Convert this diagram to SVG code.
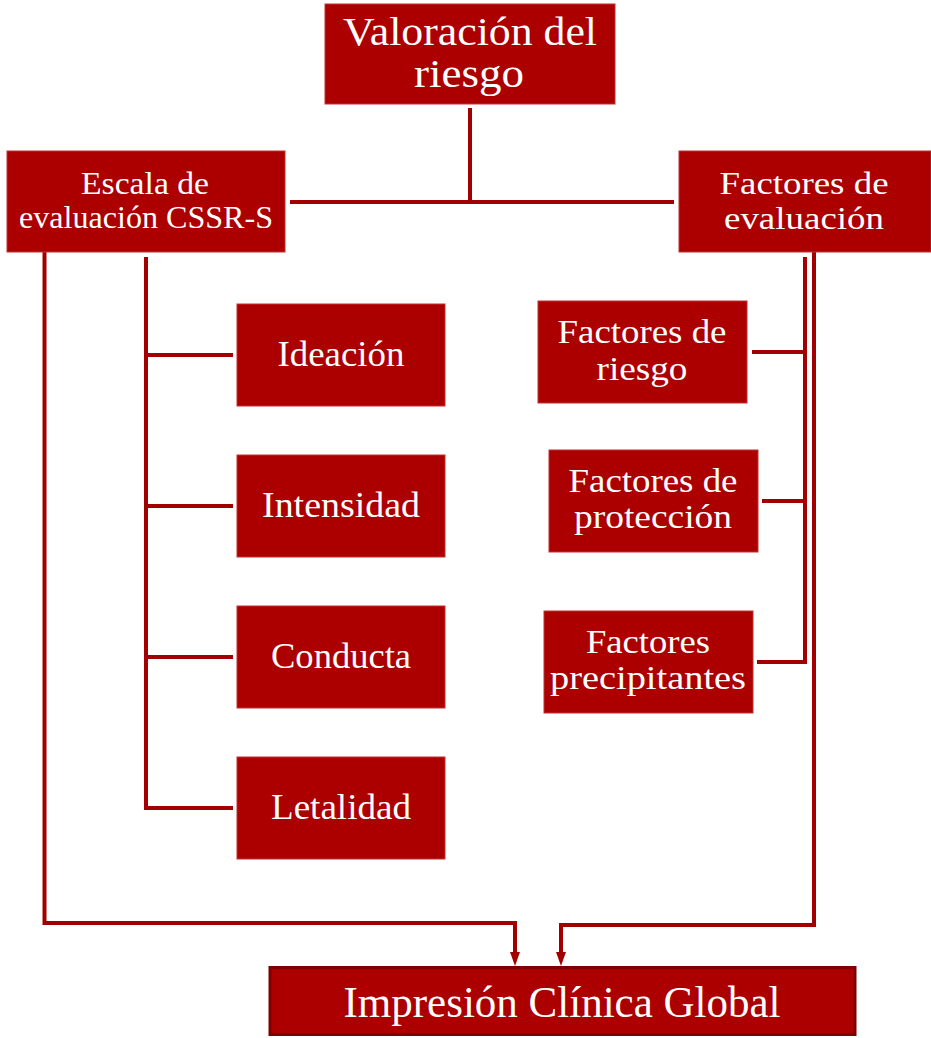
<svg xmlns="http://www.w3.org/2000/svg" width="931" height="1038" viewBox="0 0 931 1038">
<style>
.box{fill:#AC0000;stroke:#C03030;stroke-width:1}
.main{fill:#AC0000;stroke:#7E0000;stroke-width:3}
.t{font-family:"Liberation Serif","Times New Roman",serif;fill:#FFFFFF;text-anchor:middle}
.big{font-size:44px}
.top{font-size:40px}
.mid{font-size:32px}
.sub{font-size:36px}
.sub2{font-size:33px}
.ln{fill:none;stroke:#A20000;stroke-width:4}
.head{fill:#A20000}
</style>
<g id="connectors">
<line class="ln" x1="470" y1="108" x2="470" y2="202"/>
<line class="ln" x1="290" y1="202" x2="674" y2="202"/>
<polyline class="ln" points="44.5,252 44.5,923 515,923 515,953"/>
<path class="head" d="M510,952 L520,952 L515,966 Z"/>
<polyline class="ln" points="146,257 146,808"/>
<line class="ln" x1="146" y1="355" x2="233" y2="355"/>
<line class="ln" x1="146" y1="506" x2="233" y2="506"/>
<line class="ln" x1="146" y1="657" x2="233" y2="657"/>
<line class="ln" x1="144" y1="808" x2="233" y2="808"/>
<polyline class="ln" points="805,257 805,662"/>
<line class="ln" x1="752" y1="352" x2="807" y2="352"/>
<line class="ln" x1="762" y1="501" x2="807" y2="501"/>
<line class="ln" x1="757" y1="662" x2="807" y2="662"/>
<polyline class="ln" points="814,252 814,925 561,925 561,953"/>
<path class="head" d="M556,952 L566,952 L561,966 Z"/>
</g>
<g id="node-valoracion">
<rect class="box" x="325" y="4" width="290" height="100"/>
<text class="t top" x="470" y="45" textLength="254" lengthAdjust="spacingAndGlyphs">Valoración del</text>
<text class="t top" x="469" y="87" textLength="110" lengthAdjust="spacingAndGlyphs">riesgo</text>
</g>
<g id="node-escala">
<rect class="box" x="7" y="151" width="278" height="101"/>
<text class="t mid" x="145" y="194" textLength="128" lengthAdjust="spacingAndGlyphs">Escala de</text>
<text class="t mid" x="146" y="228" textLength="254" lengthAdjust="spacingAndGlyphs">evaluación CSSR-S</text>
</g>
<g id="node-factores-eval">
<rect class="box" x="679" y="151" width="252" height="101"/>
<text class="t mid" x="804" y="194" textLength="169" lengthAdjust="spacingAndGlyphs">Factores de</text>
<text class="t mid" x="804" y="229" textLength="160" lengthAdjust="spacingAndGlyphs">evaluación</text>
</g>
<g id="node-ideacion">
<rect class="box" x="237" y="304" width="208" height="102"/>
<text class="t sub" x="341" y="366" textLength="127" lengthAdjust="spacingAndGlyphs">Ideación</text>
</g>
<g id="node-intensidad">
<rect class="box" x="237" y="455" width="208" height="102"/>
<text class="t sub" x="341" y="517" textLength="158" lengthAdjust="spacingAndGlyphs">Intensidad</text>
</g>
<g id="node-conducta">
<rect class="box" x="237" y="606" width="208" height="102"/>
<text class="t sub" x="341" y="668" textLength="140" lengthAdjust="spacingAndGlyphs">Conducta</text>
</g>
<g id="node-letalidad">
<rect class="box" x="237" y="757" width="208" height="102"/>
<text class="t sub" x="341" y="819" textLength="140" lengthAdjust="spacingAndGlyphs">Letalidad</text>
</g>
<g id="node-riesgo">
<rect class="box" x="538" y="301" width="209" height="102"/>
<text class="t sub2" x="642" y="343" textLength="169" lengthAdjust="spacingAndGlyphs">Factores de</text>
<text class="t sub2" x="642" y="380" textLength="91" lengthAdjust="spacingAndGlyphs">riesgo</text>
</g>
<g id="node-proteccion">
<rect class="box" x="549" y="450" width="209" height="102"/>
<text class="t sub2" x="653" y="492" textLength="169" lengthAdjust="spacingAndGlyphs">Factores de</text>
<text class="t sub2" x="653" y="528" textLength="158" lengthAdjust="spacingAndGlyphs">protección</text>
</g>
<g id="node-precipitantes">
<rect class="box" x="544" y="611" width="209" height="102"/>
<text class="t sub2" x="648" y="653" textLength="124" lengthAdjust="spacingAndGlyphs">Factores</text>
<text class="t sub2" x="648" y="689" textLength="196" lengthAdjust="spacingAndGlyphs">precipitantes</text>
</g>
<g id="node-impresion">
<rect class="main" x="270" y="967.5" width="585" height="67"/>
<text class="t big" x="562" y="1017" textLength="437" lengthAdjust="spacingAndGlyphs">Impresión Clínica Global</text>
</g>
</svg>
